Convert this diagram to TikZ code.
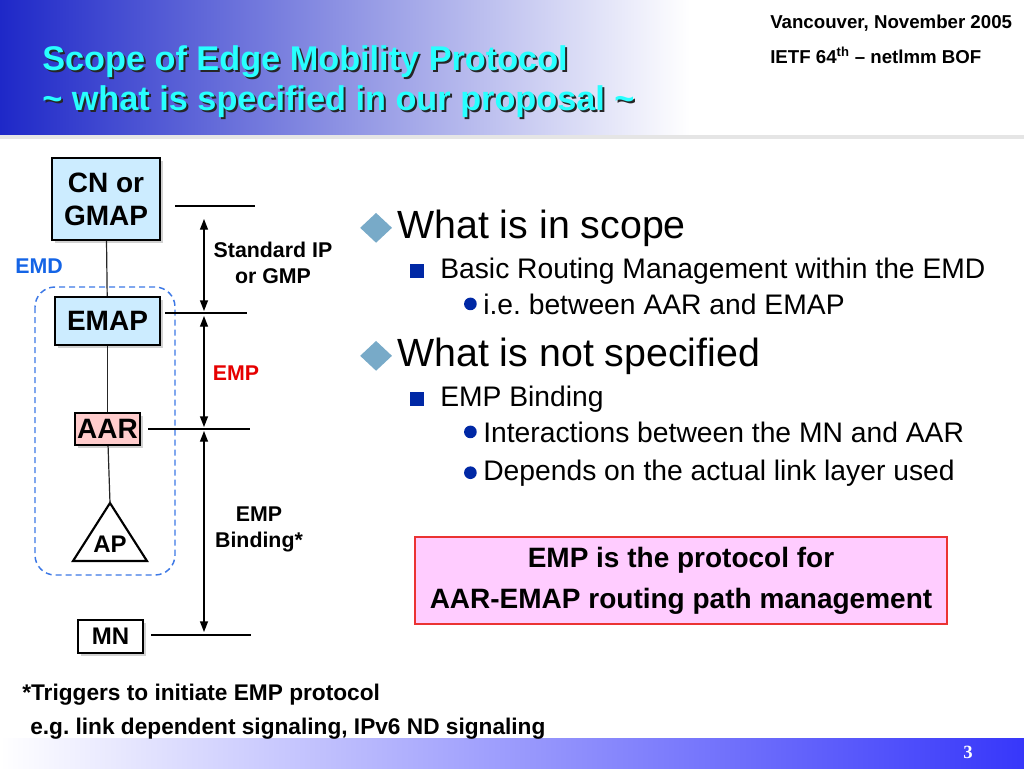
\documentclass[tikz,border=0pt]{standalone}
\usepackage{fontspec}
\setmainfont{Liberation Sans}
\newfontfamily\numfont{Liberation Serif}
\usetikzlibrary{arrows.meta,positioning,shapes.geometric,shadows}
\definecolor{figBand}{RGB}{30,40,200}
\definecolor{figFoot}{RGB}{55,55,250}
\definecolor{figCyan}{RGB}{40,255,255}
\definecolor{figBox}{RGB}{204,236,255}
\definecolor{figPink}{RGB}{255,204,204}
\definecolor{figMag}{RGB}{255,204,255}
\definecolor{figEMD}{RGB}{20,100,230}
\definecolor{figDash}{RGB}{60,120,230}
\definecolor{figRed}{RGB}{230,0,0}
\definecolor{figDia}{RGB}{120,170,200}
\definecolor{figNavy}{RGB}{0,40,165}
\frenchspacing

\begin{document}
\begin{tikzpicture}[x=0.75pt,y=-0.75pt,>={Triangle[length=8pt,width=6pt]},
  box/.style={draw,line width=1.6pt,inner sep=0pt,align=center,font=\fontsize{21}{24.75}\selectfont\bfseries,
    general shadow={fill=black!18,shadow xshift=2.2pt,shadow yshift=-2.2pt}},
  link/.style={line width=0.9pt,black!85},
  rule/.style={line width=0.9pt},
  dim/.style={<->,line width=1pt},
  lbl/.style={align=center,font=\fontsize{16}{19.5}\selectfont\bfseries},
  ttl/.style={anchor=base west,inner sep=0pt,font=\fontsize{25.7}{30}\selectfont\bfseries},
  lv1/.style={anchor=base west,inner sep=0pt,font=\fontsize{29.5}{32}\selectfont},
  lv2/.style={anchor=base west,inner sep=0pt,font=\fontsize{21.2}{24}\selectfont},
  foot/.style={anchor=base west,inner sep=0pt,font=\fontsize{17}{20}\selectfont\bfseries},
  hdr/.style={anchor=base west,inner sep=0pt,font=\fontsize{14}{16}\selectfont\bfseries},
  dia/.style={diamond,fill=figDia,inner sep=0pt,minimum width=24pt,minimum height=22.5pt},
  sqb/.style={fill=figNavy,inner sep=0pt,minimum size=10.5pt},
  dotb/.style={circle,fill=figNavy,inner sep=0pt,minimum size=9.5pt}]
\useasboundingbox (0,0) rectangle (1024,768);
\fill[white] (0,0) rectangle (1024,768);
% header and footer bands
\shade[left color=figBand,right color=white] (0,0) rectangle (690,137);
\fill[black!10] (0,135) rectangle (1024,139);
\shade[left color=white,right color=figFoot] (0,738) rectangle (1024,768);
\node[font={\numfont\fontsize{14}{14}\selectfont\bfseries},text=white] (pg) at (968,752) {3};
% title with shadow
\node[ttl,text=black!85] (t1s) at (44,72) {Scope of Edge Mobility Protocol};
\node[ttl,text=figCyan] (t1) at (42,70) {Scope of Edge Mobility Protocol};
\node[ttl,text=black!85] (t2s) at (44,112) {\textasciitilde{} what is specified in our proposal \textasciitilde};
\node[ttl,text=figCyan] (t2) at (42,110) {\textasciitilde{} what is specified in our proposal \textasciitilde};
\node[hdr] (place) at (770,28) {Vancouver, November 2005};
\node[hdr] (meet) at (770,63) {IETF 64\textsuperscript{th} \textendash{} netlmm BOF};

% protocol stack
\draw[figDash,dash pattern=on 4.5pt off 3pt,line width=1.1pt,rounded corners=15pt] (35,287) rectangle (175,575);
\node[lbl,text=figEMD] (emd) at (39,266) {EMD};
\node[box,fill=figBox,minimum width=81pt,minimum height=61.5pt] (cn) at (106,199) {CN or\\GMAP};
\node[box,fill=figBox,minimum width=78.75pt,minimum height=36pt] (emap) at (107.5,321) {EMAP};
\node[box,fill=figPink,minimum width=48.75pt,minimum height=24pt] (aar) at (107.5,429) {AAR};
\node[box,fill=white,minimum width=48.75pt,minimum height=24.75pt,font=\fontsize{18}{20}\selectfont\bfseries] (mn) at (110.5,636.5) {MN};
\coordinate (aptip) at (110,503);
\draw[line width=1.6pt,line join=miter] (aptip) -- (147,561) -- (73,561) -- cycle;
\node[font=\fontsize{18}{20}\selectfont\bfseries] (ap) at (110,544) {AP};
\draw[link] (cn) -- (emap);
\draw[link] (emap) -- (aar);
\draw[link] (aar) -- (aptip);

% scope rules and arrows
\foreach \xa/\xb/\yy in {175/255/206,165/247/313,148/250/429,151/251/635}
  \draw[rule] (\xa,\yy) -- (\xb,\yy);
\coordinate (a1) at (204,219);
\coordinate (a2) at (204,311);
\coordinate (a3) at (204,316);
\coordinate (a4) at (204,427);
\coordinate (a5) at (204,431);
\coordinate (a6) at (204,632);
\draw[dim] (a1) -- (a2);
\draw[dim] (a3) -- (a4);
\draw[dim] (a5) -- (a6);
\node[lbl] (stdip) at (273,263) {Standard IP\\or GMP};
\node[lbl,text=figRed] (emp) at (236,373) {EMP};
\node[lbl] (bind) at (259,529) {EMP\\Binding*};

% bullets
\node[lv1] (q1) at (397,238) {What is in scope};
\node[dia,left=3.5pt of q1] (q1m) {};
\node[lv2] (q1a) at (440,278) {Basic Routing Management within the EMD};
\node[sqb,left=12pt of q1a] (q1am) {};
\node[lv2] (q1b) at (483,314) {i.e. between AAR and EMAP};
\node[dotb,left=4.5pt of q1b] (q1bm) {};
\node[lv1] (q2) at (397,366) {What is not specified};
\node[dia,left=3.5pt of q2] (q2m) {};
\node[lv2] (q2a) at (440,406) {EMP Binding};
\node[sqb,left=12pt of q2a] (q2am) {};
\node[lv2] (q2b) at (483,442) {Interactions between the MN and AAR};
\node[dotb,left=4.5pt of q2b] (q2bm) {};
\node[lv2] (q2c) at (483,480) {Depends on the actual link layer used};
\node[dotb,left=4.5pt of q2c] (q2cm) {};

% summary box and footnote
\node[draw=figRed!80,fill=figMag,line width=0.8pt,minimum width=399pt,minimum height=65.25pt,align=center,
  font=\fontsize{21}{30.75}\selectfont\bfseries] (note) at (681,580.5) {EMP is the protocol for\\AAR-EMAP routing path management};
\node[foot] (fn1) at (22,700) {*Triggers to initiate EMP protocol};
\node[foot] (fn2) at (30,734) {e.g. link dependent signaling, IPv6 ND signaling};
\end{tikzpicture}
\end{document}
